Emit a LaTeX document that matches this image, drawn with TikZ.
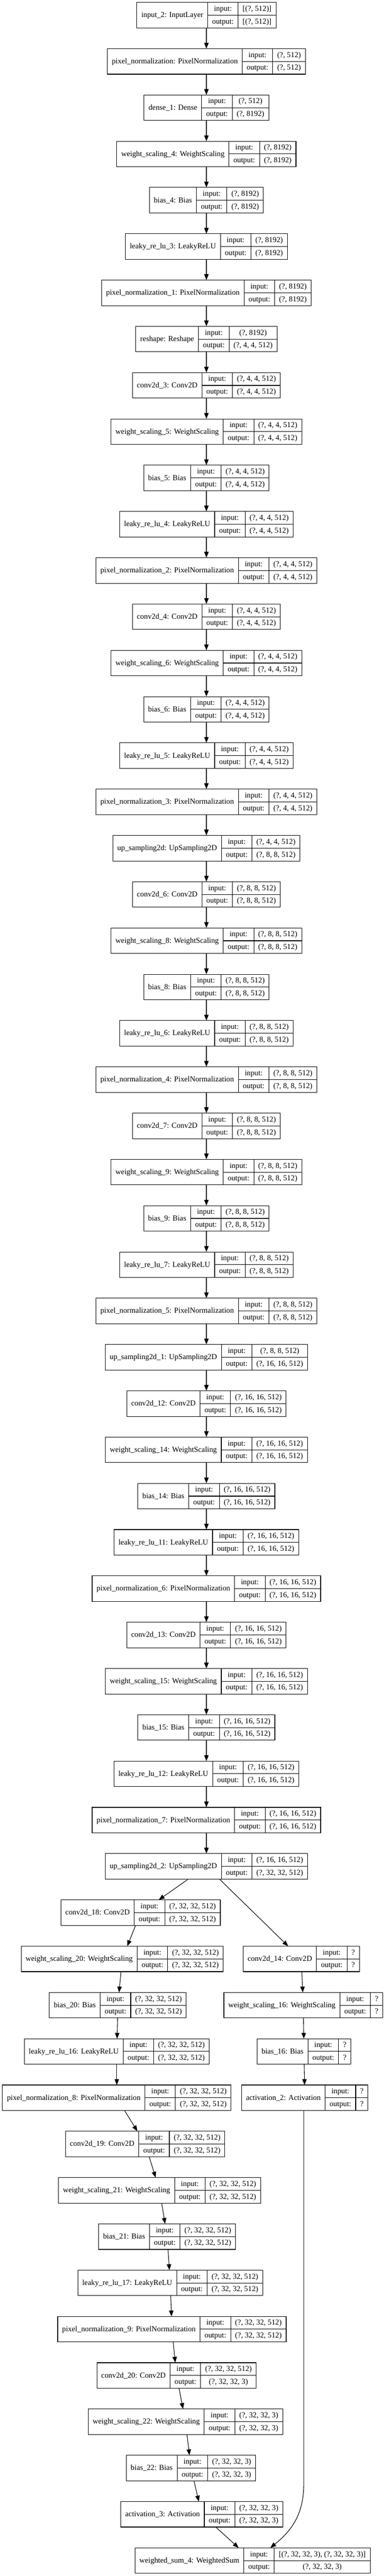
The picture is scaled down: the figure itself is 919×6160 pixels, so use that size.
\documentclass[tikz,border=0pt]{standalone}
\usepackage{fontspec}
\setmainfont{Liberation Serif}
\usetikzlibrary{arrows.meta,calc}
\newlength\wA \newlength\wB \newlength\wC \newlength\wD \newlength\wT
\newcommand\recfont{\fontsize{13.7}{16}\selectfont}
\makeatletter
\newcommand\mfont{\fontsize{13.7}{16}\pgf@selectfontorig}
\makeatother
\tikzset{
  recbox/.style={draw=none, inner sep=0pt, outer sep=0pt, minimum height=45.75pt},
  cell/.style={draw=none, inner sep=0pt, outer sep=0pt, font=\recfont, text height=11pt, text depth=3pt},
  rule/.style={line width=1pt, line cap=rect},
  edge/.style={draw, line width=1pt, -{Triangle[length=10.5pt,width=8pt]}},
}
\newcommand\rec[6]{%
  \settowidth\wA{\mfont #4}\advance\wA by 16pt
  \settowidth\wB{\mfont output:}\advance\wB by 16pt
  \settowidth\wC{\mfont #5}\settowidth\wD{\mfont #6}%
  \ifdim\wD>\wC \wC=\wD\fi \advance\wC by 16pt
  \wT=\wA \advance\wT by \wB \advance\wT by \wC
  \node[recbox, minimum width=\the\wT] (#1) at (#2,{36.2+110.67*#3}) {};
  \node[cell, minimum width=\the\wA, minimum height=45.75pt, anchor=west] (#1-a) at (#1.west) {#4};
  \node[cell, minimum width=\the\wB, minimum height=22.875pt, anchor=north west] (#1-b) at (#1-a.north east) {input:};
  \node[cell, minimum width=\the\wB, minimum height=22.875pt, anchor=north west] (#1-c) at (#1-b.south west) {output:};
  \node[cell, minimum width=\the\wC, minimum height=22.875pt, anchor=north west] (#1-d) at (#1-b.north east) {#5};
  \node[cell, minimum width=\the\wC, minimum height=22.875pt, anchor=north west] (#1-e) at (#1-d.south west) {#6};
  \draw[rule] (#1.north west) rectangle (#1.south east);
  \draw[rule] (#1-a.north east) -- (#1-a.south east);
  \draw[rule] (#1-b.north east) -- (#1-c.south east);
  \draw[rule] (#1-b.south west) -- (#1-d.south east);
}
\begin{document}
\begin{tikzpicture}[x=0.75pt, y=-0.75pt]
\fill[white] (0,0) rectangle (919,6160);
\useasboundingbox (0,0) rectangle (919,6160);
% main column
\rec{n0}{494}{0}{input\_2: InputLayer}{[(?, 512)]}{[(?, 512)]}
\rec{n1}{494}{1}{pixel\_normalization: PixelNormalization}{(?, 512)}{(?, 512)}
\rec{n2}{494}{2}{dense\_1: Dense}{(?, 512)}{(?, 8192)}
\rec{n3}{494}{3}{weight\_scaling\_4: WeightScaling}{(?, 8192)}{(?, 8192)}
\rec{n4}{494}{4}{bias\_4: Bias}{(?, 8192)}{(?, 8192)}
\rec{n5}{494}{5}{leaky\_re\_lu\_3: LeakyReLU}{(?, 8192)}{(?, 8192)}
\rec{n6}{494}{6}{pixel\_normalization\_1: PixelNormalization}{(?, 8192)}{(?, 8192)}
\rec{n7}{494}{7}{reshape: Reshape}{(?, 8192)}{(?, 4, 4, 512)}
\rec{n8}{494}{8}{conv2d\_3: Conv2D}{(?, 4, 4, 512)}{(?, 4, 4, 512)}
\rec{n9}{494}{9}{weight\_scaling\_5: WeightScaling}{(?, 4, 4, 512)}{(?, 4, 4, 512)}
\rec{n10}{494}{10}{bias\_5: Bias}{(?, 4, 4, 512)}{(?, 4, 4, 512)}
\rec{n11}{494}{11}{leaky\_re\_lu\_4: LeakyReLU}{(?, 4, 4, 512)}{(?, 4, 4, 512)}
\rec{n12}{494}{12}{pixel\_normalization\_2: PixelNormalization}{(?, 4, 4, 512)}{(?, 4, 4, 512)}
\rec{n13}{494}{13}{conv2d\_4: Conv2D}{(?, 4, 4, 512)}{(?, 4, 4, 512)}
\rec{n14}{494}{14}{weight\_scaling\_6: WeightScaling}{(?, 4, 4, 512)}{(?, 4, 4, 512)}
\rec{n15}{494}{15}{bias\_6: Bias}{(?, 4, 4, 512)}{(?, 4, 4, 512)}
\rec{n16}{494}{16}{leaky\_re\_lu\_5: LeakyReLU}{(?, 4, 4, 512)}{(?, 4, 4, 512)}
\rec{n17}{494}{17}{pixel\_normalization\_3: PixelNormalization}{(?, 4, 4, 512)}{(?, 4, 4, 512)}
\rec{n18}{494}{18}{up\_sampling2d: UpSampling2D}{(?, 4, 4, 512)}{(?, 8, 8, 512)}
\rec{n19}{494}{19}{conv2d\_6: Conv2D}{(?, 8, 8, 512)}{(?, 8, 8, 512)}
\rec{n20}{494}{20}{weight\_scaling\_8: WeightScaling}{(?, 8, 8, 512)}{(?, 8, 8, 512)}
\rec{n21}{494}{21}{bias\_8: Bias}{(?, 8, 8, 512)}{(?, 8, 8, 512)}
\rec{n22}{494}{22}{leaky\_re\_lu\_6: LeakyReLU}{(?, 8, 8, 512)}{(?, 8, 8, 512)}
\rec{n23}{494}{23}{pixel\_normalization\_4: PixelNormalization}{(?, 8, 8, 512)}{(?, 8, 8, 512)}
\rec{n24}{494}{24}{conv2d\_7: Conv2D}{(?, 8, 8, 512)}{(?, 8, 8, 512)}
\rec{n25}{494}{25}{weight\_scaling\_9: WeightScaling}{(?, 8, 8, 512)}{(?, 8, 8, 512)}
\rec{n26}{494}{26}{bias\_9: Bias}{(?, 8, 8, 512)}{(?, 8, 8, 512)}
\rec{n27}{494}{27}{leaky\_re\_lu\_7: LeakyReLU}{(?, 8, 8, 512)}{(?, 8, 8, 512)}
\rec{n28}{494}{28}{pixel\_normalization\_5: PixelNormalization}{(?, 8, 8, 512)}{(?, 8, 8, 512)}
\rec{n29}{494}{29}{up\_sampling2d\_1: UpSampling2D}{(?, 8, 8, 512)}{(?, 16, 16, 512)}
\rec{n30}{494}{30}{conv2d\_12: Conv2D}{(?, 16, 16, 512)}{(?, 16, 16, 512)}
\rec{n31}{494}{31}{weight\_scaling\_14: WeightScaling}{(?, 16, 16, 512)}{(?, 16, 16, 512)}
\rec{n32}{494}{32}{bias\_14: Bias}{(?, 16, 16, 512)}{(?, 16, 16, 512)}
\rec{n33}{494}{33}{leaky\_re\_lu\_11: LeakyReLU}{(?, 16, 16, 512)}{(?, 16, 16, 512)}
\rec{n34}{494}{34}{pixel\_normalization\_6: PixelNormalization}{(?, 16, 16, 512)}{(?, 16, 16, 512)}
\rec{n35}{494}{35}{conv2d\_13: Conv2D}{(?, 16, 16, 512)}{(?, 16, 16, 512)}
\rec{n36}{494}{36}{weight\_scaling\_15: WeightScaling}{(?, 16, 16, 512)}{(?, 16, 16, 512)}
\rec{n37}{494}{37}{bias\_15: Bias}{(?, 16, 16, 512)}{(?, 16, 16, 512)}
\rec{n38}{494}{38}{leaky\_re\_lu\_12: LeakyReLU}{(?, 16, 16, 512)}{(?, 16, 16, 512)}
\rec{n39}{494}{39}{pixel\_normalization\_7: PixelNormalization}{(?, 16, 16, 512)}{(?, 16, 16, 512)}
\rec{n40}{494}{40}{up\_sampling2d\_2: UpSampling2D}{(?, 16, 16, 512)}{(?, 32, 32, 512)}
% left branch
\rec{n41}{336.5}{41}{conv2d\_18: Conv2D}{(?, 32, 32, 512)}{(?, 32, 32, 512)}
\rec{n42}{292.5}{42}{weight\_scaling\_20: WeightScaling}{(?, 32, 32, 512)}{(?, 32, 32, 512)}
\rec{n43}{282}{43}{bias\_20: Bias}{(?, 32, 32, 512)}{(?, 32, 32, 512)}
\rec{n44}{279.5}{44}{leaky\_re\_lu\_16: LeakyReLU}{(?, 32, 32, 512)}{(?, 32, 32, 512)}
\rec{n45}{279.5}{45}{pixel\_normalization\_8: PixelNormalization}{(?, 32, 32, 512)}{(?, 32, 32, 512)}
\rec{n46}{347.5}{46}{conv2d\_19: Conv2D}{(?, 32, 32, 512)}{(?, 32, 32, 512)}
\rec{n47}{382}{47}{weight\_scaling\_21: WeightScaling}{(?, 32, 32, 512)}{(?, 32, 32, 512)}
\rec{n48}{400}{48}{bias\_21: Bias}{(?, 32, 32, 512)}{(?, 32, 32, 512)}
\rec{n49}{407.5}{49}{leaky\_re\_lu\_17: LeakyReLU}{(?, 32, 32, 512)}{(?, 32, 32, 512)}
\rec{n50}{411.5}{50}{pixel\_normalization\_9: PixelNormalization}{(?, 32, 32, 512)}{(?, 32, 32, 512)}
\rec{n51}{422.5}{51}{conv2d\_20: Conv2D}{(?, 32, 32, 512)}{(?, 32, 32, 3)}
\rec{n52}{444}{52}{weight\_scaling\_22: WeightScaling}{(?, 32, 32, 3)}{(?, 32, 32, 3)}
\rec{n53}{457}{53}{bias\_22: Bias}{(?, 32, 32, 3)}{(?, 32, 32, 3)}
\rec{n54}{483}{54}{activation\_3: Activation}{(?, 32, 32, 3)}{(?, 32, 32, 3)}
\rec{n55}{604.5}{55}{weighted\_sum\_4: WeightedSum}{[(?, 32, 32, 3), (?, 32, 32, 3)]}{(?, 32, 32, 3)}
% right branch
\rec{m42}{721}{42}{conv2d\_14: Conv2D}{?}{?}
\rec{m43}{726}{43}{weight\_scaling\_16: WeightScaling}{?}{?}
\rec{m44}{727.5}{44}{bias\_16: Bias}{?}{?}
\rec{m45}{729.5}{45}{activation\_2: Activation}{?}{?}
% edges
\foreach \i [evaluate=\i as \j using int(\i+1)] in {0,...,39} {\draw[edge] (n\i) -- (n\j);}
\draw[edge] (n40) -- (n41);
\draw[edge] (n40) -- (m42);
\foreach \i [evaluate=\i as \j using int(\i+1)] in {41,...,54} {\draw[edge] (n\i) -- (n\j);}
\draw[edge] (m42) -- (m43);
\draw[edge] (m43) -- (m44);
\draw[edge] (m44) -- (m45);
\coordinate (cb) at (727,5940);
\coordinate (ce) at ($(n55.north)+(42.5,0)$);
\draw[edge] (m45.south -| cb) -- (cb) .. controls (727,6010) and (700,6050) .. (ce);
\end{tikzpicture}
\end{document}
